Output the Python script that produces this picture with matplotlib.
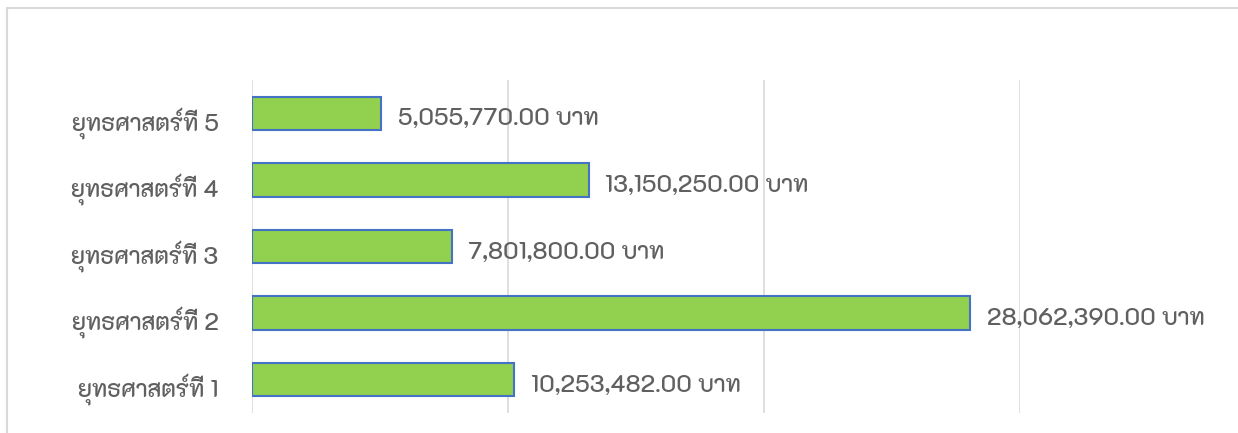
import matplotlib
matplotlib.use("Agg")
import matplotlib.pyplot as plt
from matplotlib.transforms import ScaledTranslation

categories = ["ยุทธศาสตร์ที่ 1", "ยุทธศาสตร์ที่ 2", "ยุทธศาสตร์ที่ 3",
              "ยุทธศาสตร์ที่ 4", "ยุทธศาสตร์ที่ 5"]
values = [10253482.00, 28062390.00, 7801800.00, 13150250.00, 5055770.00]
xticks = [0, 10000000, 20000000, 30000000]

# K2D has pre-positioned Thai tone marks, so ที่ renders correctly
plt.rcParams['font.family'] = ['K2D', 'DejaVu Sans']

fig = plt.figure(figsize=(12.38, 4.33), dpi=100)
ax = fig.add_axes([252/1238, 20/433, 768/1238, 333/433])

ax.barh(range(len(values)), values, height=0.5, color="#92D050",
        edgecolor="#4472C4", linewidth=1.5, zorder=3)

down = ScaledTranslation(0, -6/100, fig.dpi_scale_trans)
for i, v in enumerate(values):
    ax.text(v + 650000, i, f"{v:,.2f} บาท", va="center", ha="left",
            fontsize=17, color="#606060", fontweight="medium",
            transform=ax.transData + down)

ax.set_xlim(xticks[0], xticks[-1])
ax.set_ylim(-0.5, 4.5)
ax.set_xticks(xticks)
ax.xaxis.grid(True, color="#D9D9D9", linewidth=1.2)
ax.tick_params(axis="x", length=0, labelbottom=False)
ax.tick_params(axis="y", length=0, pad=24, labelsize=17, labelcolor="#606060")
ax.set_yticks(range(len(categories)))
ax.set_yticklabels(categories, fontweight="medium")
for lab in ax.get_yticklabels():
    lab.set_transform(lab.get_transform() + down)
for s in ax.spines.values():
    s.set_visible(False)

# chart frame
fig.add_artist(plt.Rectangle((7/1238, -0.1), 1.2, (433-7.5)/433 + 0.1,
               transform=fig.transFigure, fill=False, edgecolor="#D9D9D9",
               linewidth=1.5))

fig.savefig("out.png", dpi=100)
